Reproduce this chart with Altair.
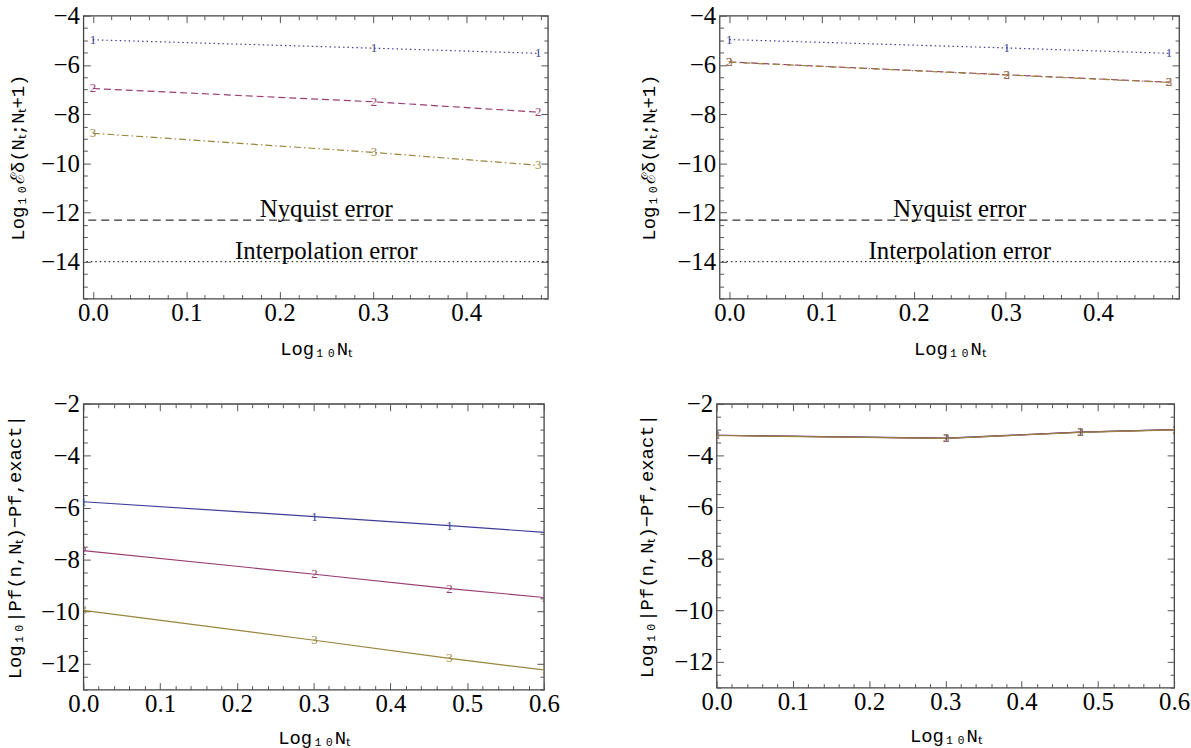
import altair as alt
import pandas as pd

# ---------------- data ----------------
series_names = ["1", "2", "3"]
series_colors = ["#3d3d99", "#993d71", "#99853d"]
dash_patterns = [[1.5, 3], [7, 4], [7, 3, 1.5, 3]]

x_top = [0.0, 0.30103, 0.47712]
tl_s1 = [-4.98, -5.32, -5.53]
tl_s2 = [-6.96, -7.50, -7.92]
tl_s3 = [-8.78, -9.56, -10.08]
tr_s1 = [-4.97, -5.31, -5.53]
tr_s2 = [-5.88, -6.40, -6.70]
tr_s3 = [-5.89, -6.41, -6.71]

x_bot = [0.0, 0.30103, 0.47712, 0.60206]
bl_s1 = [-5.77, -6.34, -6.69, -6.95]
bl_s2 = [-7.65, -8.56, -9.11, -9.46]
bl_s3 = [-9.95, -11.10, -11.80, -12.25]
br_s1 = [-3.22, -3.33, -3.10, -3.00]
br_s2 = [-3.22, -3.34, -3.10, -3.00]
br_s3 = [-3.23, -3.34, -3.11, -3.01]

ref_names = ["Nyquist error", "Interpolation error"]
ref_levels = [-12.31, -14.0]
ref_label_x = [0.25, 0.25]
ref_label_y = [-11.86, -13.56]

x_title = "Log₁₀Nₜ"
y_title_top = "Log₁₀ℰδ(Nₜ;Nₜ+1)"
y_title_bot = "Log₁₀|Pf(n,Nₜ)−Pf,exact|"

# tick positions
xmaj_top = [0.0, 0.1, 0.2, 0.3, 0.4]
xmin_top = [round(0.02 * i, 2) for i in range(0, 25) if i % 5 != 0]
ymaj_top = [-14, -12, -10, -8, -6, -4]
ymin_top = [-15.5 + 0.5 * i for i in range(24) if (-15.5 + 0.5 * i) % 2 != 0]
xmaj_bot = [0.0, 0.1, 0.2, 0.3, 0.4, 0.5, 0.6]
xmin_bot = [round(0.02 * i, 2) for i in range(0, 31) if i % 5 != 0]
ymaj_bot = [-12, -10, -8, -6, -4, -2]
ymin_bot = [-13 + 0.5 * i for i in range(23) if (-13 + 0.5 * i) % 2 != 0]


def long_df(xs, lists):
    rows = []
    for name, ys in zip(series_names, lists):
        for xv, yv in zip(xs, ys):
            rows.append({"x": xv, "y": yv, "s": name})
    return pd.DataFrame(rows)


def tick_axis(orient, vals, size):
    return alt.Axis(orient=orient, values=vals, tickSize=size, offset=-size,
                    labels=False, domain=False, grid=False, title=None,
                    tickColor="#555555", tickWidth=1)


def panel(df, xdom, ydom, xmaj, xmin, ymaj, ymin, w, h, ytitle, ytpad, xtpad,
          dashed, refs=False):
    xs = alt.Scale(domain=xdom, nice=False, zero=False)
    ys = alt.Scale(domain=ydom, nice=False, zero=False)
    main_x = alt.Axis(orient="bottom", values=xmaj, format=".1f", ticks=False,
                      domain=False, grid=False, labelPadding=2, labelFlush=False,
                      labelFont="Liberation Serif", labelFontSize=25, labelColor="black",
                      title=x_title, titlePadding=xtpad, titleFont="Liberation Mono",
                      titleFontSize=19, titleFontWeight="normal", titleColor="black")
    main_y = alt.Axis(orient="left", values=ymaj, format="d", ticks=False,
                      domain=False, grid=False, labelPadding=4,
                      labelFont="Liberation Serif", labelFontSize=25, labelColor="black",
                      title=ytitle, titlePadding=ytpad, titleFont="Liberation Mono",
                      titleFontSize=19, titleFontWeight="normal", titleColor="black")
    color = alt.Color("s:N", scale=alt.Scale(domain=series_names, range=series_colors),
                      legend=None)
    base = alt.Chart(df)
    enc = dict(x=alt.X("x:Q", scale=xs, axis=main_x),
               y=alt.Y("y:Q", scale=ys, axis=main_y), color=color)
    if dashed:
        enc["strokeDash"] = alt.StrokeDash(
            "s:N", scale=alt.Scale(domain=series_names, range=dash_patterns), legend=None)
    lines = base.mark_line(strokeWidth=1.2, clip=True).encode(**enc)
    labels = base.mark_text(font="Liberation Serif", fontSize=13, clip=True,
                            baseline="middle", align="center").encode(
        x=alt.X("x:Q", scale=xs, axis=None),
        y=alt.Y("y:Q", scale=ys, axis=None),
        text="s:N", color=color)
    layers = [lines, labels]
    for ox, oy, vx, vy, sz in [("bottom", "left", xmaj, ymaj, 7),
                               ("bottom", "left", xmin, ymin, 4),
                               ("top", "right", xmaj, ymaj, 7),
                               ("top", "right", xmin, ymin, 4)]:
        layers.append(base.mark_line(opacity=0).encode(
            x=alt.X("x:Q", scale=xs, axis=tick_axis(ox, vx, sz)),
            y=alt.Y("y:Q", scale=ys, axis=tick_axis(oy, vy, sz))))
    if refs:
        ref_df = pd.DataFrame({"level": ref_levels, "name": ref_names,
                               "lx": ref_label_x, "ly": ref_label_y})
        for i, dash in enumerate([[8, 5], [1.5, 3]]):
            layers.append(alt.Chart(ref_df.iloc[[i]]).mark_rule(
                color="black", strokeWidth=1, strokeDash=dash).encode(
                y=alt.Y("level:Q", scale=ys, axis=None)))
        layers.append(alt.Chart(ref_df).mark_text(
            font="Liberation Serif", fontSize=25, color="black",
            baseline="middle", align="center").encode(
            x=alt.X("lx:Q", scale=xs, axis=None),
            y=alt.Y("ly:Q", scale=ys, axis=None),
            text="name:N"))
    return alt.layer(*layers).resolve_axis(x="independent", y="independent").properties(
        width=w, height=h)


tl = panel(long_df(x_top, [tl_s1, tl_s2, tl_s3]), [-0.0103, 0.4875], [-15.5, -4],
           xmaj_top, xmin_top, ymaj_top, ymin_top, 468, 285, y_title_top, 13, 14,
           True, True)
tr = panel(long_df(x_top, [tr_s1, tr_s2, tr_s3]), [-0.0106, 0.488], [-15.5, -4],
           xmaj_top, xmin_top, ymaj_top, ymin_top, 463, 285, y_title_top, 18, 14,
           True, True)
bl = panel(long_df(x_bot, [bl_s1, bl_s2, bl_s3]), [0, 0.6], [-13, -2],
           xmaj_bot, xmin_bot, ymaj_bot, ymin_bot, 464, 288, y_title_bot, 16, 12,
           False)
br = panel(long_df(x_bot, [br_s1, br_s2, br_s3]), [0, 0.6], [-13, -2],
           xmaj_bot, xmin_bot, ymaj_bot, ymin_bot, 461, 286, y_title_bot, 17, 12,
           False)

row1 = alt.hconcat(tl, tr, spacing=90)
row2 = alt.hconcat(bl, br, spacing=77)

chart = alt.vconcat(row1, row2, spacing=32).properties(
    padding={"left": 5, "top": 0, "right": 0, "bottom": 0}
).configure_view(
    stroke="#444444", strokeWidth=1.3
)

chart.save("out.html", embed_options={"renderer": "svg", "actions": False})
